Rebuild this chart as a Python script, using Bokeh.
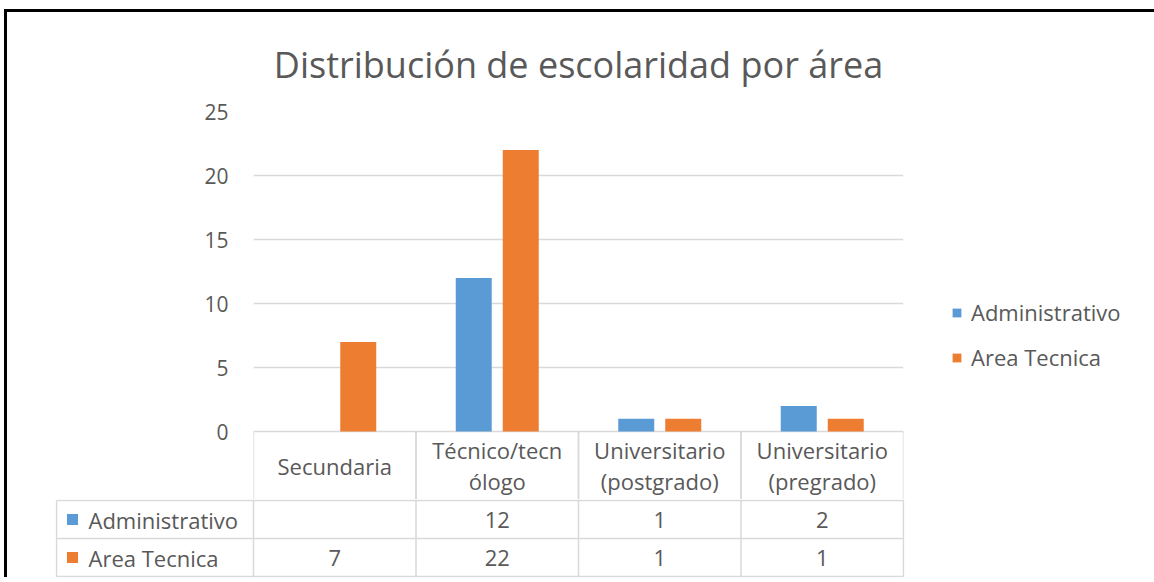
import numpy as np
from bokeh.plotting import figure
from bokeh.models import (Range1d, FactorRange, Legend, LegendItem, FixedTicker,
                          ColumnDataSource)
from bokeh.transform import dodge
from bokeh.layouts import column, row
from bokeh.embed import file_html
from bokeh.resources import INLINE
from bokeh.core.properties import value

# ---------------- data ----------------
title_text = "Distribución de escolaridad por área"
categories = ["Secundaria", "Técnico/tecnólogo", "Universitario (postgrado)", "Universitario (pregrado)"]
category_labels = ["Secundaria", "Técnico/tecn\nólogo", "Universitario\n(postgrado)", "Universitario\n(pregrado)"]
series_names = ["Administrativo", "Area Tecnica"]
administrativo = [None, 12, 1, 2]
area_tecnica = [7, 22, 1, 1]
y_ticks = [0, 5, 10, 15, 20, 25]
colors = ["#5B9BD5", "#ED7D31"]

# ---------------- style / layout ----------------
FONT = "Open Sans"
TEXT_COLOR = "#595959"
GRID = "#D9D9D9"
PW = 900                # width of chart + table column
LW = 247                # width of the legend column
CAT_PX = 162.5          # pixel width of one category column
LABEL_COL_PX = 197      # pixel width of the table's label column
PLOT_PX = 320           # pixel height of the 0..25 value span
HEADER_PX = 68          # header row of the data table (below value 0)
ROW_PX = 38
TOP_PX = 99
FS = "22px"


def to_num(v):
    return np.nan if v is None else v


def to_label(v):
    return "" if v is None else str(v)


series_values = [administrativo, area_tecnica]
n = len(categories)

src = ColumnDataSource(dict(
    cat=categories,
    adm=[to_num(v) for v in administrativo],
    tec=[to_num(v) for v in area_tecnica],
))

common = dict(output_backend="svg", toolbar_location=None, frame_align=False,
              outline_line_color=None, background_fill_color="white",
              border_fill_color="white")

# ---------------- chart (with the header row of the table) ----------------
y_top = y_ticks[-1]
p_h = TOP_PX + PLOT_PX + HEADER_PX
p = figure(width=PW, height=p_h,
           x_range=FactorRange(factors=categories),
           y_range=Range1d(-HEADER_PX * y_top / PLOT_PX, y_top),
           min_border_left=246, min_border_right=4, min_border_top=TOP_PX, min_border_bottom=0,
           x_axis_location=None, **common)
p.extra_y_ranges = {"px": Range1d(-HEADER_PX, PLOT_PX)}

p.title.text = title_text
p.title.align = "center"
p.title.text_font = FONT
p.title.text_font_size = "36px"
p.title.text_font_style = "normal"
p.title.text_color = TEXT_COLOR
p.title.offset = 10
p.title.standoff = 46

p.yaxis.ticker = FixedTicker(ticks=y_ticks)
p.yaxis.axis_line_color = None
p.yaxis.major_tick_line_color = None
p.yaxis.minor_tick_line_color = None
p.yaxis.major_tick_out = 0
p.yaxis.major_tick_in = 0
p.yaxis.major_label_standoff = 25
p.yaxis.major_label_text_font = FONT
p.yaxis.major_label_text_font_size = "21px"
p.yaxis.major_label_text_color = TEXT_COLOR
p.ygrid.grid_line_color = GRID
p.ygrid.grid_line_width = 1.5
p.xgrid.visible = False

offset = 23.5 / CAT_PX
bar_w = 36 / CAT_PX
p.vbar(x=dodge("cat", -offset, range=p.x_range), top="adm", width=bar_w,
       source=src, fill_color=colors[0], line_color=None)
p.vbar(x=dodge("cat", offset, range=p.x_range), top="tec", width=bar_w,
       source=src, fill_color=colors[1], line_color=None)

# header row: column separators and category names
p.segment(x0=dodge("cat", -0.5, range=p.x_range), y0=0, x1=dodge("cat", -0.5, range=p.x_range),
          y1=-HEADER_PX, y_range_name="px", source=src, line_color=GRID, line_width=1.5)
p.segment(x0=dodge("cat", 0.5, range=p.x_range), y0=0, x1=dodge("cat", 0.5, range=p.x_range),
          y1=-HEADER_PX, y_range_name="px", source=src, line_color=GRID, line_width=1.5)
hdr = ColumnDataSource(dict(cat=categories, lab=category_labels))
p.text(x="cat", y=-34, text="lab", source=hdr, y_range_name="px",
       text_align="center", text_baseline="middle", text_line_height=1.03,
       text_font=value(FONT), text_font_size=FS, text_color=TEXT_COLOR)

# ---------------- data rows of the table ----------------
x0 = -(LABEL_COL_PX + 1) / CAT_PX
x1 = n + 1 / CAT_PX
lab_x = -LABEL_COL_PX / CAT_PX
t_h = 2 * ROW_PX + 2
t = figure(width=PW, height=t_h,
           x_range=Range1d(x0, x1), y_range=Range1d(-t_h, 0),
           min_border_left=48, min_border_right=3, min_border_top=0, min_border_bottom=0,
           x_axis_location=None, y_axis_location=None, **common)
t.grid.visible = False

row_edges = [-1, -1 - ROW_PX, -1 - 2 * ROW_PX]
t.segment(x0=[lab_x] * 3, y0=row_edges, x1=[n] * 3, y1=row_edges, line_color=GRID, line_width=1.5)
vx = list(range(n + 1)) + [lab_x]
vy0 = [0] * (n + 1) + [row_edges[0]]
vy1 = [row_edges[-1]] * (n + 2)
t.segment(x0=vx, y0=vy0, x1=vx, y1=vy1, line_color=GRID, line_width=1.5)

centers_x = [i + 0.5 for i in range(n)]
for k, vals in enumerate(series_values):
    yc = (row_edges[k] + row_edges[k + 1]) / 2
    t.text(x=centers_x, y=[yc] * n, text=[to_label(v) for v in vals],
           text_align="center", text_baseline="middle",
           text_font=value(FONT), text_font_size=FS, text_color=TEXT_COLOR)
    t.scatter(x=[lab_x + 16 / CAT_PX], y=[yc], marker="square", size=11,
              fill_color=colors[k], line_color=None)
    t.text(x=[lab_x + 32 / CAT_PX], y=[yc], text=[series_names[k]],
           text_align="left", text_baseline="middle",
           text_font=value(FONT), text_font_size=FS, text_color=TEXT_COLOR)

# ---------------- legend (own panel to the right) ----------------
lf = figure(width=LW, height=p_h + t_h, x_range=FactorRange(factors=categories),
            y_range=Range1d(0, y_top),
            min_border_left=0, min_border_right=0, min_border_top=0, min_border_bottom=0,
            x_axis_location=None, y_axis_location=None, **common)
lf.grid.visible = False
lr = [lf.vbar(x="cat", top=col, width=bar_w, source=src, fill_color=c, line_color=None,
              visible=False)
      for col, c in zip(["adm", "tec"], colors)]
legend = Legend(items=[LegendItem(label=s, renderers=[r]) for s, r in zip(series_names, lr)],
                location=(44, 205), orientation="vertical",
                glyph_width=11, glyph_height=11, label_standoff=9,
                padding=0, margin=0, spacing=15, label_height=24,
                border_line_color=None, background_fill_alpha=0, inactive_fill_alpha=0,
                label_text_font=FONT, label_text_font_size=FS,
                label_text_color=TEXT_COLOR)
lf.add_layout(legend)

layout = row(column(p, t, spacing=0), lf, spacing=0,
             styles={"margin-top": "9px", "margin-left": "4px",
                     "border-top": "3px solid black", "border-left": "3px solid black"})

open("out.html", "w").write(file_html(layout, INLINE))
